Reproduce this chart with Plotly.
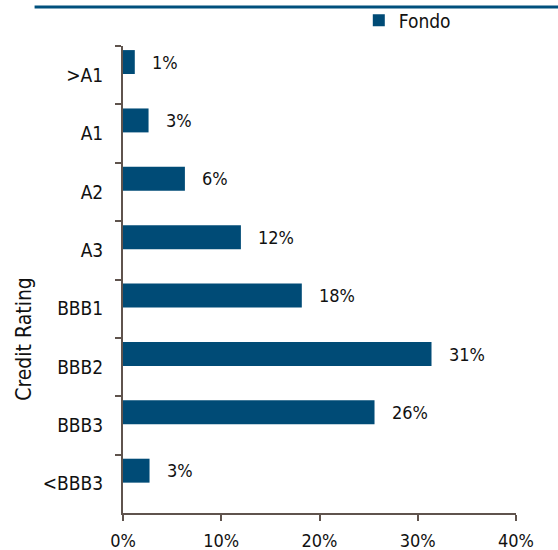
import plotly.graph_objects as go

# datos
ratings = [">A1", "A1", "A2", "A3", "BBB1", "BBB2", "BBB3", "<BBB3"]
fondo = [1.2, 2.6, 6.3, 12.0, 18.2, 31.4, 25.6, 2.7]
labels = ["1%", "3%", "6%", "12%", "18%", "31%", "26%", "3%"]
x_ticks = [0, 10, 20, 30, 40]
x_ticktext = ["0%", "10%", "20%", "30%", "40%"]

BLUE = "#004B76"
AXIS = "#5f534d"
FONT = "DejaVu Sans Condensed"

fig = go.Figure()
fig.add_trace(go.Bar(
    x=fondo,
    y=ratings,
    orientation="h",
    name="Fondo",
    marker={"color": BLUE, "line": {"width": 0}},
    width=0.41,
    offset=-0.43,
    hoverinfo="x+y",
))

for r, v, t in zip(ratings, fondo, labels):
    fig.add_annotation(
        x=v, y=r, text=t, showarrow=False,
        xanchor="left", xshift=15, yshift=13,
        font={"size": 18, "color": "#111111", "family": FONT},
    )

# título del eje Y (en el original no está centrado)
fig.add_annotation(
    text="Credit Rating", xref="paper", yref="paper",
    x=-0.252, y=0.373, textangle=-90, showarrow=False,
    xanchor="center", yanchor="middle",
    font={"size": 21, "color": "#111111", "family": FONT},
)

# línea azul superior
fig.add_shape(
    type="line", xref="paper", yref="paper",
    x0=-0.225, x1=1.12, y0=1.0835, y1=1.0835,
    line={"color": "#00507D", "width": 3},
)

fig.update_layout(
    width=558,
    height=550,
    margin={"l": 123, "r": 42, "t": 46, "b": 37, "autoexpand": False},
    paper_bgcolor="white",
    plot_bgcolor="white",
    font={"family": FONT, "size": 18, "color": "#111111"},
    showlegend=True,
    legend={
        "x": 0.60, "y": 1.055, "xanchor": "left", "yanchor": "middle",
        "orientation": "h", "itemwidth": 30,
        "font": {"size": 19, "family": FONT},
        "bgcolor": "rgba(0,0,0,0)",
    },
    xaxis={
        "range": [0, 40],
        "tickvals": x_ticks,
        "ticktext": x_ticktext,
        "showgrid": False,
        "zeroline": False,
        "showline": True,
        "linecolor": AXIS,
        "linewidth": 2,
        "ticks": "outside",
        "ticklen": 6,
        "tickcolor": AXIS,
        "tickwidth": 2,
        "ticklabelstandoff": 4,
        "tickfont": {"size": 18},
        "automargin": False,
        "fixedrange": True,
    },
    yaxis={
        "categoryorder": "array",
        "categoryarray": ratings,
        "autorange": "reversed",
        "showgrid": False,
        "showline": True,
        "linecolor": AXIS,
        "linewidth": 2,
        "ticks": "outside",
        "tickson": "boundaries",
        "ticklen": 6,
        "tickcolor": AXIS,
        "tickwidth": 2,
        "ticklabelstandoff": 14,
        "tickfont": {"size": 19},
        "automargin": False,
        "fixedrange": True,
    },
)

fig.write_html(
    "out.html",
    config={"displayModeBar": False},
    post_script="document.body.style.margin='0';",
)
